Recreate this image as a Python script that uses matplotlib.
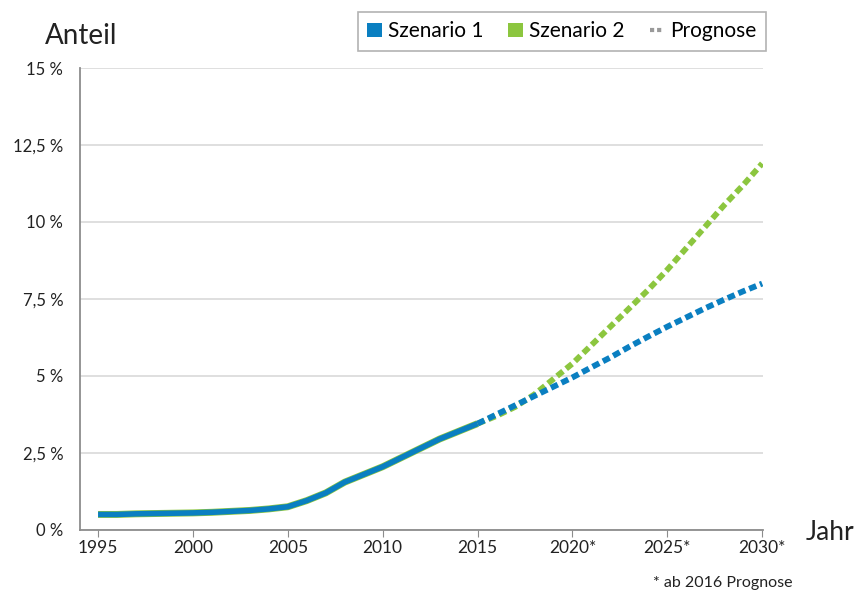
import matplotlib.pyplot as plt
from matplotlib.lines import Line2D
from matplotlib.patches import Patch

plt.rcParams['font.family'] = ['Lato', 'DejaVu Sans']

# historical values (both scenarios identical)
hist_years = list(range(1995, 2016))
hist_vals = [0.5, 0.5, 0.52, 0.53, 0.54, 0.55, 0.57, 0.6, 0.63, 0.68, 0.75,
             0.95, 1.2, 1.55, 1.8, 2.05, 2.35, 2.65, 2.95, 3.2, 3.45]

# forecast from 2015
prog_years = list(range(2015, 2031))
szen1_prog = [3.45, 3.75, 4.05, 4.35, 4.65, 4.95, 5.28, 5.6, 5.95, 6.28, 6.6,
              6.9, 7.2, 7.48, 7.75, 8.0]
szen2_prog = [3.45, 3.7, 4.0, 4.4, 4.9, 5.4, 6.0, 6.6, 7.2, 7.8, 8.45,
              9.15, 9.85, 10.55, 11.2, 11.9]

xticks = [1995, 2000, 2005, 2010, 2015, 2020, 2025, 2030]
xlabels = ['1995', '2000', '2005', '2010', '2015', '2020*', '2025*', '2030*']
yticks = [0, 2.5, 5, 7.5, 10, 12.5, 15]
ylabels = ['0 %', '2,5 %', '5 %', '7,5 %', '10 %', '12,5 %', '15 %']

blue = '#0a7fc1'
green = '#8cc63f'

fig = plt.figure(figsize=(8.56, 5.92), dpi=100)
ax = fig.add_axes([0.0935, 0.105, 0.798, 0.78])

ax.plot(hist_years, hist_vals, color=green, lw=5.0, solid_capstyle='butt', zorder=3)
ax.plot(hist_years, hist_vals, color=blue, lw=4.0, solid_capstyle='butt', zorder=4)
ax.plot(prog_years, szen2_prog, color=green, lw=4.2, dashes=(1.3, 0.7), zorder=3)
ax.plot(prog_years, szen1_prog, color=blue, lw=4.2, dashes=(1.3, 0.7), zorder=4)

ax.set_xlim(1994.05, 2030.05)
ax.set_ylim(0, 15)
ax.set_xticks(xticks)
ax.set_xticklabels(xlabels, fontsize=12.5, color='#222222')
ax.set_yticks(yticks)
ax.set_yticklabels(ylabels, fontsize=12, color='#222222')
ax.grid(axis='y', color='#d9d9d9', lw=1.2)
ax.set_axisbelow(True)
for s in ['top', 'right']:
    ax.spines[s].set_visible(False)
for s in ['left', 'bottom']:
    ax.spines[s].set_color('#8c8c8c')
    ax.spines[s].set_linewidth(1.3)
ax.tick_params(axis='y', length=0, pad=12)
ax.tick_params(axis='x', length=5, color='#8c8c8c', pad=2)

fig.text(0.052, 0.925, 'Anteil', fontsize=20, color='#222222')
fig.text(0.941, 0.088, 'Jahr', fontsize=19, color='#222222')
fig.text(0.926, 0.008, '* ab 2016 Prognose', fontsize=11.5, color='#222222', ha='right')

handles = [Patch(facecolor=blue, edgecolor='none'),
           Patch(facecolor=green, edgecolor='none'),
           Line2D([0], [0], color='#9a9a9a', lw=3, dashes=(1, 0.7))]
leg = fig.legend(handles, ['Szenario 1', 'Szenario 2', 'Prognose'],
                 loc='upper right', bbox_to_anchor=(0.895, 0.98), ncol=3,
                 fontsize=15, frameon=True, fancybox=False, handlelength=0.7,
                 handleheight=0.7, handletextpad=0.3, columnspacing=1.2,
                 borderpad=0.45, borderaxespad=0)
leg.get_frame().set_edgecolor('#a0a0a0')
leg.get_frame().set_linewidth(1.2)

fig.savefig('out.png', dpi=100)
